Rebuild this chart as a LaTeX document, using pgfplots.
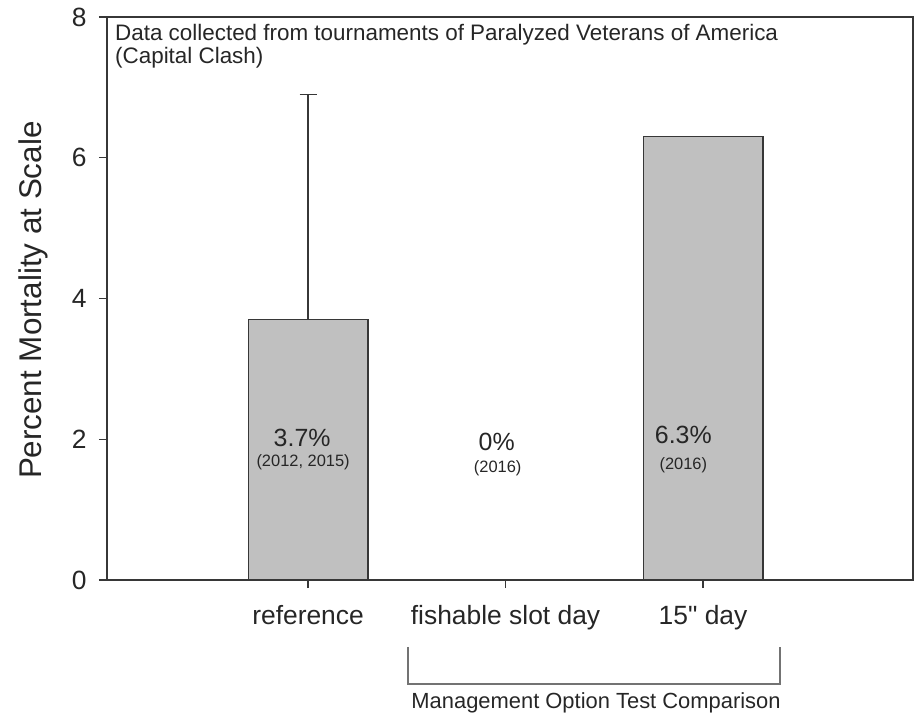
\documentclass[border=0pt]{standalone}
\usepackage{pgfplots}
\pgfplotsset{compat=1.18}
\usepackage{fontspec}
\setmainfont{Liberation Sans}[Ligatures=TeXOff]
\definecolor{edge}{RGB}{55,55,55}
\definecolor{barfill}{RGB}{192,192,192}
\definecolor{bracket}{RGB}{115,115,115}

\pgfplotstableread{
x y err
1 3.7 3.2
2 0   0
3 6.3 0
}\mortality

\begin{document}
\begin{tikzpicture}
\path[use as bounding box] (0,0) rectangle (915bp,716bp);
\begin{axis}[
  at={(107bp,136bp)}, anchor=south west,
  scale only axis, width=806bp, height=563bp,
  xmin=-0.018, xmax=4.063, ymin=0, ymax=8,
  ytick={0,2,4,6,8},
  xtick={1,2,3},
  xticklabels={reference, fishable slot day, 15" day},
  tick align=outside, tick pos=left,
  major tick length=8bp,
  axis line style={edge, line width=1.4bp},
  every tick/.style={edge, line width=1.2bp},
  tick label style={font=\fontsize{26.5}{31}\selectfont, text=black!85},
  yticklabel style={xshift=-9bp},
  xticklabel style={yshift=-14bp},
  /pgf/number format/assume math mode=true,
  ylabel={Percent Mortality at Scale},
  ylabel style={font=\fontsize{31.5}{37}\selectfont, text=black!85,
    at={(axis description cs:-0.0918,0.497)}, anchor=center},
  clip=false,
  ybar, bar width=0.607,
]
\addplot[fill=barfill, draw=edge, line width=1.2bp,
  error bars/.cd, y dir=plus, y explicit,
  error bar style={edge, line width=1.2bp},
  error mark options={rotate=90, mark size=8.5bp, edge, line width=1.2bp}]
  table[x=x, y=y, y error=err] {\mortality};

% value labels inside / above the bars
\node[font=\fontsize{25}{29}\selectfont, text=black!85] at (axis cs:0.97,2.02) {3.7\%};
\node[font=\fontsize{16.5}{20}\selectfont, text=black!85] at (axis cs:0.975,1.68) {(2012, 2015)};
\node[font=\fontsize{25}{29}\selectfont, text=black!85] at (axis cs:1.955,1.96) {0\%};
\node[font=\fontsize{16.5}{20}\selectfont, text=black!85] at (axis cs:1.96,1.59) {(2016)};
\node[font=\fontsize{25}{29}\selectfont, text=black!85] at (axis cs:2.90,2.06) {6.3\%};
\node[font=\fontsize{16.5}{20}\selectfont, text=black!85] at (axis cs:2.90,1.63) {(2016)};

% source note
\node[anchor=base west, font=\fontsize{22.5}{26}\selectfont, text=black!85, inner sep=0pt]
  at (rel axis cs:0.0099,0.959) {Data collected from tournaments of Paralyzed Veterans of America};
\node[anchor=base west, font=\fontsize{22.5}{26}\selectfont, text=black!85, inner sep=0pt]
  at (rel axis cs:0.0099,0.918) {(Capital Clash)};

% bracket grouping the management options
\draw[bracket, line width=1.3bp] (axis cs:1.506,-0.952) |- (axis cs:3.39,-1.478) -- (axis cs:3.39,-0.952);
\node[font=\fontsize{22}{26}\selectfont, text=black!85] at (axis cs:2.458,-1.748) {Management Option Test Comparison};
\end{axis}
\end{tikzpicture}
\end{document}
